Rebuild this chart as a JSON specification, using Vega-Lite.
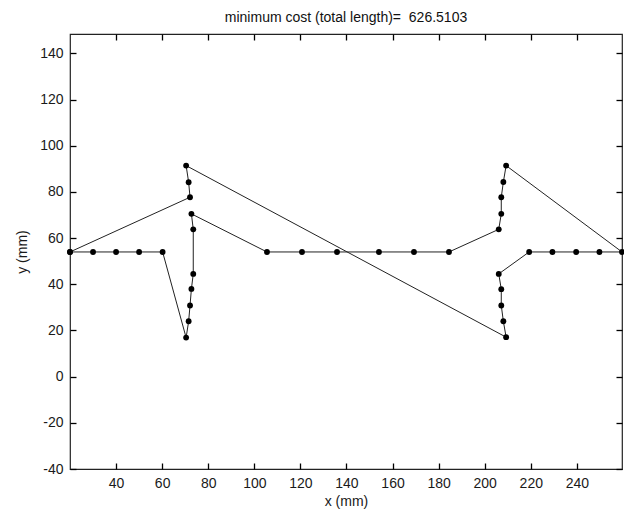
{
  "$schema": "https://vega.github.io/schema/vega-lite/v6.json",
  "autosize": "none",
  "width": 552,
  "height": 435,
  "padding": {"left": 70, "top": 34, "right": 2, "bottom": 48},
  "background": "white",
  "title": {
    "text": "minimum cost (total length)=\u00a0 626.5103",
    "font": "Liberation Sans",
    "fontSize": 14,
    "fontWeight": "normal",
    "color": "#111",
    "anchor": "middle",
    "offset": 8
  },
  "config": {
    "view": {"stroke": "#222", "strokeWidth": 1.2},
    "axis": {
      "labelFont": "Liberation Sans",
      "labelFontSize": 14,
      "labelColor": "#1a1a1a",
      "titleFont": "Liberation Sans",
      "titleFontSize": 14,
      "titleFontWeight": "normal",
      "titleColor": "#1a1a1a",
      "domain": false,
      "grid": false,
      "labelExpr": "'' + datum.value"
    }
  },
  "data": {
    "values": [
      {"i": 1, "x": 20, "y": 54},
      {"i": 2, "x": 30, "y": 54},
      {"i": 3, "x": 40, "y": 54},
      {"i": 4, "x": 50, "y": 54},
      {"i": 5, "x": 60.2, "y": 54},
      {"i": 6, "x": 70.4, "y": 16.9},
      {"i": 7, "x": 71.5, "y": 24.0},
      {"i": 8, "x": 72.1, "y": 30.8},
      {"i": 9, "x": 72.7, "y": 38.0},
      {"i": 10, "x": 73.5, "y": 44.5},
      {"i": 11, "x": 73.5, "y": 63.8},
      {"i": 12, "x": 72.7, "y": 70.5},
      {"i": 13, "x": 105.5, "y": 54},
      {"i": 14, "x": 120.7, "y": 54},
      {"i": 15, "x": 135.9, "y": 54},
      {"i": 16, "x": 154.1, "y": 54},
      {"i": 17, "x": 169.3, "y": 54},
      {"i": 18, "x": 184.5, "y": 54},
      {"i": 19, "x": 206.1, "y": 63.8},
      {"i": 20, "x": 207.2, "y": 70.5},
      {"i": 21, "x": 207.2, "y": 77.7},
      {"i": 22, "x": 208.1, "y": 84.3},
      {"i": 23, "x": 209.3, "y": 91.4},
      {"i": 24, "x": 259.6, "y": 54},
      {"i": 25, "x": 249.8, "y": 54},
      {"i": 26, "x": 239.7, "y": 54},
      {"i": 27, "x": 229.4, "y": 54},
      {"i": 28, "x": 219.3, "y": 54},
      {"i": 29, "x": 206.1, "y": 44.5},
      {"i": 30, "x": 207.2, "y": 37.9},
      {"i": 31, "x": 207.2, "y": 30.8},
      {"i": 32, "x": 208.1, "y": 24.0},
      {"i": 33, "x": 209.3, "y": 17.1},
      {"i": 34, "x": 70.4, "y": 91.4},
      {"i": 35, "x": 71.5, "y": 84.2},
      {"i": 36, "x": 72.1, "y": 77.7},
      {"i": 37, "x": 20, "y": 54}
    ]
  },
  "resolve": {"axis": {"x": "independent", "y": "independent"}},
  "layer": [
    {
      "mark": {"type": "line", "color": "#222", "strokeWidth": 1, "clip": false},
      "encoding": {
        "order": {"field": "i", "type": "quantitative"},
        "x": {
          "field": "x", "type": "quantitative",
          "scale": {"domain": [20, 259.6], "nice": false, "zero": false},
          "axis": {"orient": "bottom", "tickSize": -6, "tickWidth": 1.3, "tickColor": "#000", "labelPadding": 13, "values": [40, 60, 80, 100, 120, 140, 160, 180, 200, 220, 240], "title": "x (mm)", "titlePadding": 4}
        },
        "y": {
          "field": "y", "type": "quantitative",
          "scale": {"domain": [-40, 148.4], "nice": false, "zero": false},
          "axis": {"orient": "left", "tickSize": -6, "tickWidth": 1.3, "tickColor": "#000", "labelPadding": 13, "values": [-40, -20, 0, 20, 40, 60, 80, 100, 120, 140], "title": "y (mm)", "titlePadding": 10}
        }
      }
    },
    {
      "mark": {"type": "point", "filled": true, "color": "#000", "size": 34, "opacity": 1, "clip": false},
      "encoding": {
        "x": {
          "field": "x", "type": "quantitative",
          "scale": {"domain": [20, 259.6], "nice": false, "zero": false},
          "axis": {"orient": "top", "tickSize": -6, "tickWidth": 1.3, "tickColor": "#000", "values": [40, 60, 80, 100, 120, 140, 160, 180, 200, 220, 240], "labels": false, "title": null}
        },
        "y": {
          "field": "y", "type": "quantitative",
          "scale": {"domain": [-40, 148.4], "nice": false, "zero": false},
          "axis": {"orient": "right", "tickSize": -6, "tickWidth": 1.3, "tickColor": "#000", "values": [-40, -20, 0, 20, 40, 60, 80, 100, 120, 140], "labels": false, "title": null}
        }
      }
    }
  ]
}
